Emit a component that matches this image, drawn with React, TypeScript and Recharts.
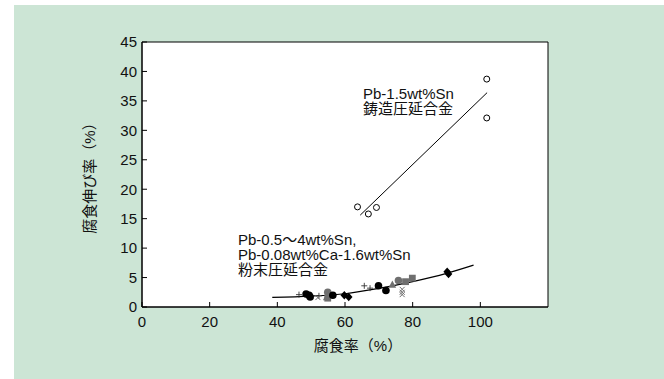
import React from 'react';
import { ComposedChart, XAxis, YAxis, Scatter, Line, ReferenceArea, Label } from 'recharts';

const xTicks = [0, 20, 40, 60, 80, 100];
const yTicks = [0, 5, 10, 15, 20, 25, 30, 35, 40, 45];

// Pb-1.5wt%Sn cast-rolled alloy (open circles) and its fit line
const castX = [63.7, 66.9, 69.3, 101.9, 101.9];
const castY = [17.0, 15.8, 16.9, 38.7, 32.1];
const castFitX = [64.5, 102.0];
const castFitY = [15.6, 36.4];

// Powder-rolled alloys fit curve
const powderFitX = [38.5, 50, 60, 70, 80, 90, 98];
const powderFitY = [1.65, 1.85, 2.25, 3.15, 4.3, 5.7, 7.1];

// Powder-rolled alloys markers
const dotX = [48.5, 49.7, 49.4, 56.4, 69.9, 72.1];
const dotY = [2.2, 1.7, 2.0, 2.0, 3.6, 2.8];
const diamondX = [59.8, 61.1, 90.2, 90.6];
const diamondY = [2.0, 1.7, 6.0, 5.6];
const plusX = [46.4, 52.3, 65.7, 67.4];
const plusY = [2.1, 1.9, 3.6, 3.2];
const crossX = [52.0, 76.9, 76.9, 76.9];
const crossY = [1.6, 3.0, 2.5, 2.1];
const triX = [54.6, 74.0];
const triY = [1.7, 3.8];
const greyDotX = [54.9, 75.8];
const greyDotY = [2.5, 4.5];
const squareX = [54.9, 77.9, 79.9];
const squareY = [1.5, 4.3, 4.9];

const zip = (xs: number[], ys: number[]) => xs.map((x, i) => ({ x, y: ys[i] }));

const FONT = "'Liberation Sans', Arial, 'Noto Sans CJK JP', sans-serif";
const GREY = '#6f6f6f';

const OpenCircle = (p: any) => <circle cx={p.cx} cy={p.cy} r={3} fill="#fff" stroke="#000" strokeWidth={1} />;
const FilledCircle = (p: any) => <circle cx={p.cx} cy={p.cy} r={3.8} fill="#000" />;
const GreyCircle = (p: any) => <circle cx={p.cx} cy={p.cy} r={3.8} fill={GREY} />;
const Diamond = (p: any) => (
  <polygon points={`${p.cx},${p.cy - 4.2} ${p.cx + 3.8},${p.cy} ${p.cx},${p.cy + 4.2} ${p.cx - 3.8},${p.cy}`} fill="#000" />
);
const Plus = (p: any) => (
  <g stroke="#333" strokeWidth={0.9}>
    <line x1={p.cx - 3} y1={p.cy} x2={p.cx + 3} y2={p.cy} />
    <line x1={p.cx} y1={p.cy - 3} x2={p.cx} y2={p.cy + 3} />
  </g>
);
const Cross = (p: any) => (
  <g stroke={GREY} strokeWidth={1}>
    <line x1={p.cx - 2.5} y1={p.cy - 2.5} x2={p.cx + 2.5} y2={p.cy + 2.5} />
    <line x1={p.cx - 2.5} y1={p.cy + 2.5} x2={p.cx + 2.5} y2={p.cy - 2.5} />
  </g>
);
const Tri = (p: any) => (
  <polygon points={`${p.cx},${p.cy - 4.2} ${p.cx + 3.8},${p.cy + 3.2} ${p.cx - 3.8},${p.cy + 3.2}`} fill={GREY} />
);
const Square = (p: any) => <rect x={p.cx - 3.4} y={p.cy - 3.4} width={6.8} height={6.8} fill={GREY} />;

const textStyle: React.CSSProperties = {
  position: 'absolute',
  fontFamily: FONT,
  fontSize: 15,
  lineHeight: '14px',
  height: 14,
  color: '#111',
  whiteSpace: 'nowrap',
};

export default function App() {
  return (
    <div style={{ position: 'absolute', left: 0, top: 0, width: 664, height: 379, background: '#fff', overflow: 'hidden' }}>
      <div style={{ position: 'absolute', left: 14, top: 5, width: 650, height: 374, background: '#cce5d5' }} />
      <div style={{ position: 'absolute', left: 0, top: 0 }}>
        <ComposedChart
          width={664}
          height={379}
          margin={{ top: 42, right: 116, bottom: 42, left: 38 }}
          style={{ fontFamily: FONT }}
        >
          <ReferenceArea x1={0} x2={120} y1={0} y2={45} fill="#fff" fillOpacity={1} stroke="#000" strokeWidth={1} ifOverflow="visible" />
          <XAxis
            type="number"
            dataKey="x"
            domain={[0, 120]}
            ticks={xTicks}
            height={30}
            tickSize={-5}
            tickMargin={14}
            stroke="#000"
            tick={{ fill: '#111', fontSize: 15, fontFamily: FONT }}
            allowDataOverflow
          >
            <Label value="腐食率（%）" position="bottom" offset={3} dx={13} style={{ fill: '#111', fontSize: 15, fontFamily: FONT }} />
          </XAxis>
          <YAxis
            type="number"
            dataKey="y"
            domain={[0, 45]}
            ticks={yTicks}
            width={104}
            tickSize={-5}
            tickMargin={10}
            stroke="#000"
            tick={{ fill: '#111', fontSize: 15, fontFamily: FONT }}
            allowDataOverflow
          >
            <Label value="腐食伸び率（%）" angle={-90} position="center" dy={0} style={{ fill: '#111', fontSize: 15, fontFamily: FONT, textAnchor: 'middle' }} />
          </YAxis>
          <Line data={zip(castFitX, castFitY)} dataKey="y" type="linear" dot={false} stroke="#000" strokeWidth={1} isAnimationActive={false} />
          <Line data={zip(powderFitX, powderFitY)} dataKey="y" type="monotone" dot={false} stroke="#000" strokeWidth={1.2} isAnimationActive={false} />
          <Scatter data={zip(plusX, plusY)} shape={Plus} isAnimationActive={false} />
          <Scatter data={zip(crossX, crossY)} shape={Cross} isAnimationActive={false} />
          <Scatter data={zip(triX, triY)} shape={Tri} isAnimationActive={false} />
          <Scatter data={zip(squareX, squareY)} shape={Square} isAnimationActive={false} />
          <Scatter data={zip(greyDotX, greyDotY)} shape={GreyCircle} isAnimationActive={false} />
          <Scatter data={zip(dotX, dotY)} shape={FilledCircle} isAnimationActive={false} />
          <Scatter data={zip(diamondX, diamondY)} shape={Diamond} isAnimationActive={false} />
          <Scatter data={zip(castX, castY)} shape={OpenCircle} isAnimationActive={false} />
        </ComposedChart>
      </div>
      <div style={{ ...textStyle, left: 363, top: 87 }}>Pb-1.5wt%Sn</div>
      <div style={{ ...textStyle, left: 363, top: 102 }}>鋳造圧延合金</div>
      <div style={{ ...textStyle, left: 238, top: 233 }}>Pb-0.5～4wt%Sn,</div>
      <div style={{ ...textStyle, left: 238, top: 248 }}>Pb-0.08wt%Ca-1.6wt%Sn</div>
      <div style={{ ...textStyle, left: 238, top: 263 }}>粉末圧延合金</div>
    </div>
  );
}
